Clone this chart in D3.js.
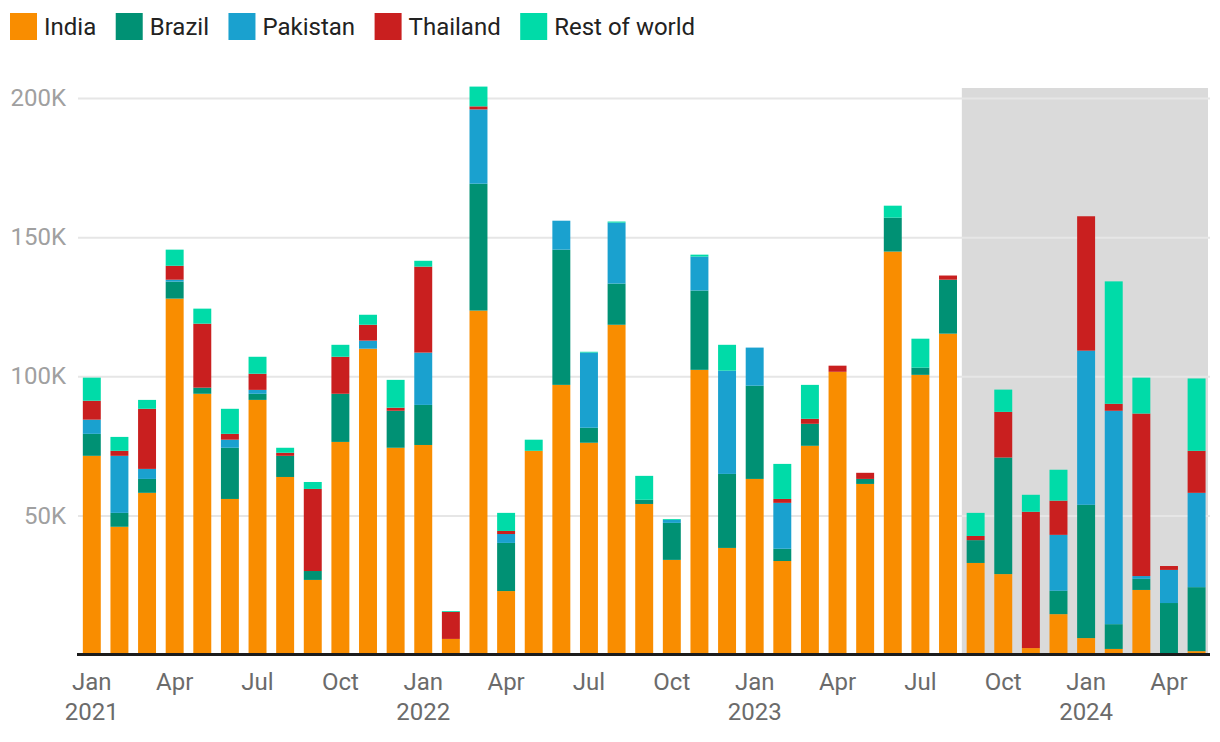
<!DOCTYPE html>
<html>
<head>
<meta charset="utf-8">
<script src="https://cdn.jsdelivr.net/npm/d3@7"></script>
<style>
  html, body { margin: 0; padding: 0; background: #fff; }
  svg { display: block; font-family: Roboto, "Noto Sans", sans-serif; }
</style>
</head>
<body>
<script>
// ---- Data ----
const months = [
  "2021-01","2021-02","2021-03","2021-04","2021-05","2021-06","2021-07","2021-08","2021-09","2021-10","2021-11","2021-12",
  "2022-01","2022-02","2022-03","2022-04","2022-05","2022-06","2022-07","2022-08","2022-09","2022-10","2022-11","2022-12",
  "2023-01","2023-02","2023-03","2023-04","2023-05","2023-06","2023-07","2023-08","2023-09","2023-10","2023-11","2023-12",
  "2024-01","2024-02","2024-03","2024-04","2024-05"
];
const india = [
  71400,45900,58100,127900,93700,55900,91500,63800,26800,76400,109900,74300,
  75300,5600,123600,22800,73200,96900,76100,118500,54100,34000,102300,38300,
  63100,33600,75000,101600,61300,144800,100500,115300,32900,28900,2300,14500,
  5900,2000,23200,500,1200
];
const brazil = [
  7900,5000,5000,6100,2200,18400,2200,7600,3200,17300,0,13300,
  14400,0,45600,17300,0,48600,5400,14800,1500,13300,28500,26600,
  33500,4400,7900,0,1800,12200,2600,19400,8200,41900,0,8400,
  47900,8900,4000,18000,23000
];
const pakistan = [
  5100,20500,3600,700,0,2900,1400,0,0,0,2900,0,
  18800,0,26700,3200,0,10400,27000,21900,0,1100,12200,37100,
  13700,16500,0,0,0,0,0,0,0,0,0,20100,
  55400,76700,1000,11900,33900
];
const thailand = [
  6800,1800,21600,5000,23000,2100,5800,1100,29500,13300,5700,1100,
  30900,9700,1100,1100,0,0,0,0,0,0,0,0,
  0,1400,1800,2200,2200,0,0,1500,1500,16400,49000,12300,
  48300,2500,58400,1400,15100
];
const restOfWorld = [
  8300,5000,3200,5800,5400,9000,6100,1800,2500,4300,3600,10000,
  2100,300,7100,6500,4000,0,300,400,8600,300,700,9300,
  0,12600,12200,0,0,4300,10400,0,8300,8000,6100,11100,
  0,44000,12900,0,26000
];
const seriesNames = ["India","Brazil","Pakistan","Thailand","Rest of world"];
const seriesColors = ["#f98d00","#009174","#1aa1cf","#c91f1f","#00dba8"];
const monthNames = ["Jan","Feb","Mar","Apr","May","Jun","Jul","Aug","Sep","Oct","Nov","Dec"];
const yTicks = [50000,100000,150000,200000];
const highlightStart = "2023-09";

// ---- Build table ----
const seriesArrays = [india, brazil, pakistan, thailand, restOfWorld];
const table = months.map((m, i) => {
  const row = { month: m };
  seriesNames.forEach((s, k) => row[s] = seriesArrays[k][i]);
  return row;
});

const W = 1220, H = 742;
const svg = d3.select("body").append("svg").attr("width", W).attr("height", H);

const x = d3.scaleBand().domain(months).range([78, 1210.4]).paddingInner(0.35).paddingOuter(0.175);
const y = d3.scaleLinear().domain([0, 200000]).range([654.5, 98]);
const color = d3.scaleOrdinal().domain(seriesNames).range(seriesColors);

// Highlight (shaded) region
const hx = x(highlightStart) - x.step() * x.paddingInner() / 2;
svg.append("rect")
  .attr("x", hx).attr("y", 88)
  .attr("width", 1208 - hx).attr("height", y(0) - 88)
  .attr("fill", "#dadada");

// Gridlines + y labels
const yAxis = svg.append("g")
  .attr("transform", "translate(78,0)")
  .call(d3.axisLeft(y).tickValues(yTicks).tickSize(-(1210 - 78)).tickPadding(12)
        .tickFormat(d => (d / 1000) + "K"));
yAxis.select(".domain").remove();
yAxis.selectAll(".tick line").attr("stroke", "#e6e6e6").attr("stroke-width", 2);
yAxis.selectAll(".tick text")
  .attr("fill", "#a0a0a0").style("font-size", "24px").style("font-family", "Roboto");

// Bars
const stacked = d3.stack().keys(seriesNames)(table);
svg.append("g").selectAll("g").data(stacked).join("g")
  .attr("fill", d => color(d.key))
  .selectAll("rect").data(d => d).join("rect")
  .attr("x", d => x(d.data.month))
  .attr("width", x.bandwidth())
  .attr("y", d => y(d[1]))
  .attr("height", d => Math.max(0, y(d[0]) - y(d[1])));

// X axis
const tickMonths = months.filter((m, i) => i % 3 === 0);
const xAxis = svg.append("g")
  .attr("transform", `translate(0,${y(0)})`)
  .call(d3.axisBottom(x).tickValues(tickMonths).tickSize(0).tickPadding(0).tickFormat(""));
xAxis.select(".domain").remove();
xAxis.selectAll(".tick").each(function(m) {
  const [yr, mo] = m.split("-");
  const t = d3.select(this).append("text")
    .attr("fill", "#6b6b6b").attr("text-anchor", "middle")
    .style("font-size", "24px").style("font-family", "Roboto");
  t.append("tspan").attr("x", 0).attr("y", 35.5).text(monthNames[+mo - 1]);
  if (mo === "01") t.append("tspan").attr("x", 0).attr("y", 65.5).text(yr);
});

// Baseline
svg.append("line")
  .attr("x1", 77).attr("x2", 1210)
  .attr("y1", y(0)).attr("y2", y(0))
  .attr("stroke", "#1c1c1c").attr("stroke-width", 3);

// Legend
const legend = svg.append("g");
let lx = 10;
seriesNames.forEach((s, i) => {
  legend.append("rect").attr("x", lx).attr("y", 13).attr("width", 27).attr("height", 27)
    .attr("fill", seriesColors[i]);
  const t = legend.append("text").attr("x", lx + 34).attr("y", 26.5).attr("dy", "0.36em")
    .attr("fill", "#222").style("font-size", "24px").style("font-family", "Roboto").text(s);
  lx += 34 + t.node().getComputedTextLength() + 19.5;
});
</script>
</body>
</html>
